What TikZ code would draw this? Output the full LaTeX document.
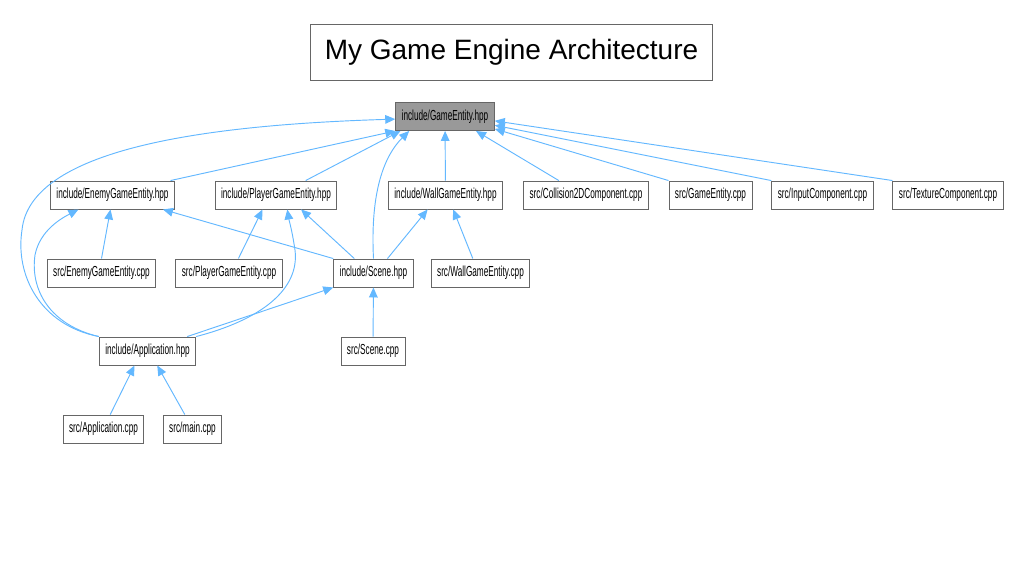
\documentclass[tikz,border=0pt]{standalone}
\usepackage{fontspec}
\setmainfont{Liberation Sans}
\newfontfamily\narrowfont[FakeStretch=0.565]{Liberation Sans}
\usepackage{xcolor}
\usepackage{tikz}
\usetikzlibrary{
	arrows.meta,
	calc
}
\definecolor{edgeblue}{RGB}{99,184,255}
\definecolor{boxline}{RGB}{102,102,102}
\definecolor{rootfill}{RGB}{153,153,153}
\tikzset{
	file/.style={draw=boxline, fill=white, line width=0.7pt, minimum height=21pt,
		inner xsep=4.5pt, inner ysep=0pt, font=\narrowfont\fontsize{10.9}{12}\selectfont},
	root/.style={file, fill=rootfill},
	dep/.style={draw=edgeblue, line width=0.7pt,
		-{Triangle[length=7.5pt, width=6.5pt, fill=edgeblue]}}
}

\begin{document}
\begin{tikzpicture}[x=0.75pt, y=-0.75pt]
		\fill[white] (0,0) rectangle (1024,576);
		\useasboundingbox (0,0) rectangle (1024,576);
		\node[draw=boxline, line width=0.8pt, minimum width=302pt, minimum height=42pt,
			font=\fontsize{21}{24}\selectfont] (title) at (511.5,52.5) {My Game Engine Architecture};
		\node[root] (GE) at (445,116.5) {include/GameEntity.hpp};
		\node[file] (EGEh) at (112.5,195) {include/EnemyGameEntity.hpp};
		\node[file] (PGEh) at (276,195) {include/PlayerGameEntity.hpp};
		\node[file] (WGEh) at (445.5,195) {include/WallGameEntity.hpp};
		\node[file] (Coll) at (586,195) {src/Collision2DComponent.cpp};
		\node[file] (GEcpp) at (710.5,195) {src/GameEntity.cpp};
		\node[file] (Input) at (822.5,195) {src/InputComponent.cpp};
		\node[file] (Tex) at (948,195) {src/TextureComponent.cpp};
		\node[file] (EGEcpp) at (101.5,273) {src/EnemyGameEntity.cpp};
		\node[file] (PGEcpp) at (229,273) {src/PlayerGameEntity.cpp};
		\node[file] (Scene) at (373.5,273) {include/Scene.hpp};
		\node[file] (WGEcpp) at (480.5,273) {src/WallGameEntity.cpp};
		\node[file] (App) at (147.5,351) {include/Application.hpp};
		\node[file] (Scenecpp) at (373,351) {src/Scene.cpp};
		\node[file] (Appcpp) at (103.5,429) {src/Application.cpp};
		\node[file] (main) at (192.5,429) {src/main.cpp};
		\draw[dep] (EGEh.14) -- (GE.south west);
		\draw[dep] (PGEh.26) -- (GE.198);
		\draw[dep] (WGEh) -- (GE);
		\draw[dep] (Coll.152) -- (GE.335);
		\draw[dep] (GEcpp.north west) -- (GE.346);
		\draw[dep] (Input.north west) -- (GE.350);
		\draw[dep] (Tex.north west) -- (GE.355);
		\draw[dep] (Scene.north) .. controls (370,190) and (385,155) .. (GE.202);
		\draw[dep] (App.north west) .. controls (40,325) and (15,275) .. (22,230)
			.. controls (30,150) and (200,125) .. (GE.183);
		\draw[dep] (EGEcpp.north) -- (EGEh.262);
		\draw[dep] (Scene.north west) -- (EGEh.344);
		\draw[dep] (App.north west) .. controls (50,325) and (30,290) .. (35,255)
			.. controls (40,230) and (62,218) .. (EGEh.203);
		\draw[dep] (PGEcpp.57) -- (PGEh.227);
		\draw[dep] (Scene.143) -- (PGEh.330);
		\draw[dep] (App.north east) .. controls (260,320) and (300,290) .. (295,250)
			.. controls (292,230) and (289,220) .. (PGEh.308);
		\draw[dep] (Scene.46) -- (WGEh.219);
		\draw[dep] (WGEcpp.118) -- (WGEh.298);
		\draw[dep] (App.20) -- (Scene.south west);
		\draw[dep] (Scenecpp) -- (Scene);
		\draw[dep] (Appcpp.65) -- (App.228);
		\draw[dep] (main.118) -- (App.304);
	\end{tikzpicture}
\end{document}
